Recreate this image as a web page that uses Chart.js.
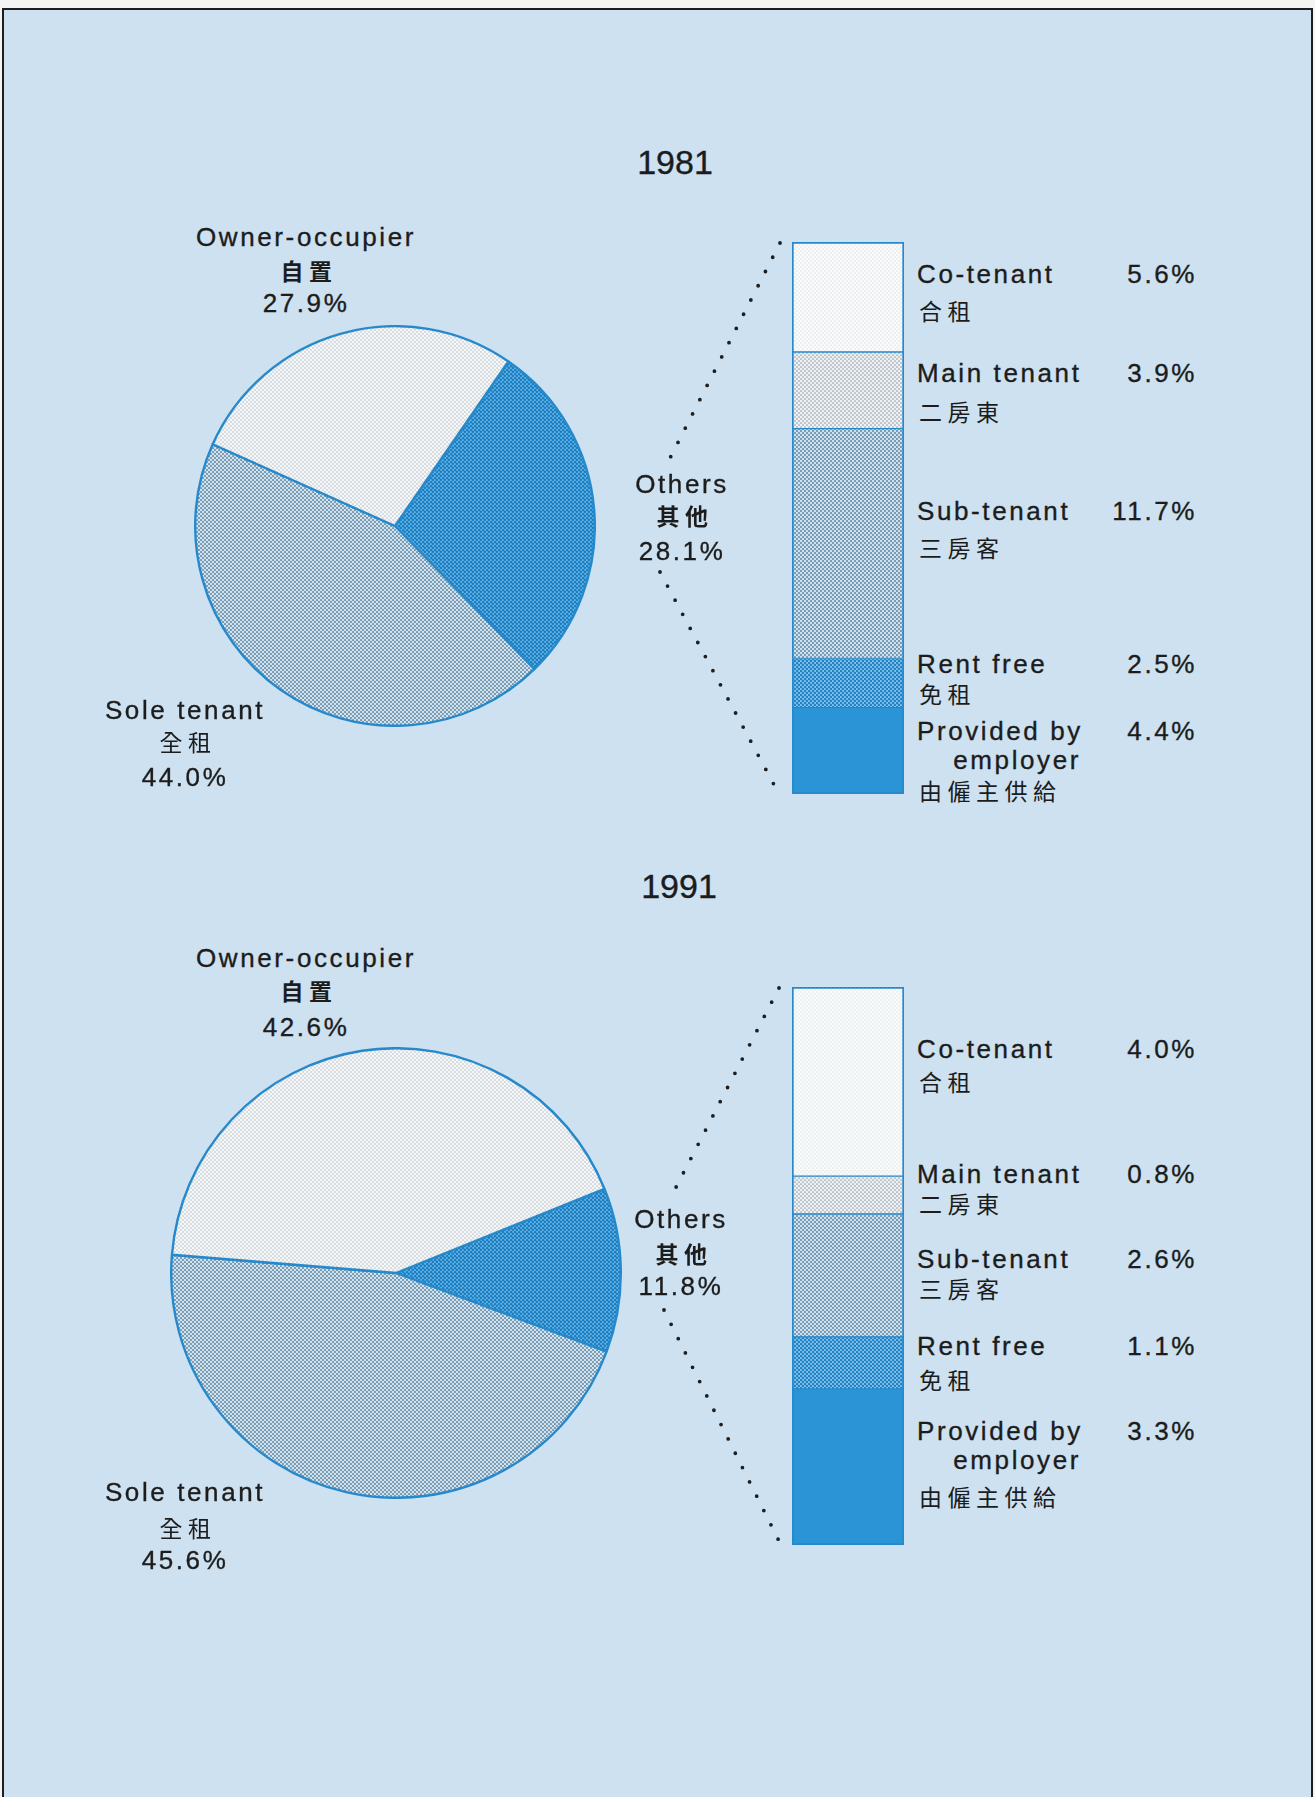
<!DOCTYPE html>
<html>
<head>
<meta charset="utf-8">
<script src="https://cdn.jsdelivr.net/npm/chart.js@4.4.1/dist/chart.umd.min.js"></script>
<style>
  html, body { margin: 0; padding: 0; background: #f4f4f2; }
  body { width: 1315px; height: 1797px; position: relative; overflow: hidden;
         font-family: "Liberation Sans", Arial, sans-serif; color: #1c1c1c; }
  #frame { position: absolute; left: 2px; top: 8px; width: 1307px; height: 1800px;
           border: 2px solid #1e1e1e; border-bottom: none; background: #cde1f0; }
  canvas { position: absolute; }
  .lbl { position: absolute; white-space: nowrap; line-height: 1; -webkit-text-stroke: 0.35px #1c1c1c; }
  .en { font-size: 26px; letter-spacing: 2.6px; }
  .zh { font-family: "Noto Sans CJK TC", sans-serif; font-size: 23px; letter-spacing: 5.5px; -webkit-text-stroke: 0; }
  .zhb { font-weight: 700; }
  .yr { font-size: 34px; }
</style>
</head>
<body>
<div id="frame"></div>
<canvas id="pie1981" width="402" height="402" style="left:194px;top:325px"></canvas>
<canvas id="bar1981" width="264" height="576" style="left:640px;top:230px"></canvas>
<canvas id="pie1991" width="452" height="452" style="left:170px;top:1047px"></canvas>
<canvas id="bar1991" width="264" height="582" style="left:640px;top:975px"></canvas>
<script>
// data
const years = ['1981', '1991'];
const pieLabels = ['Others', 'Sole tenant', 'Owner-occupier'];
const pieLabelsZh = ['其他', '全租', '自置'];
const pie1981 = [28.1, 44.0, 27.9];
const pie1991 = [11.8, 45.6, 42.6];
const otherLabels = ['Co-tenant', 'Main tenant', 'Sub-tenant', 'Rent free', 'Provided by employer'];
const otherLabelsZh = ['合租', '二房東', '三房客', '免租', '由僱主供給'];
const others1981 = [5.6, 3.9, 11.7, 2.5, 4.4];
const others1991 = [4.0, 0.8, 2.6, 1.1, 3.3];

const BLUE = '#2689cb';

// halftone-ish fills
function dots(bg, fg, r) {
  const c = document.createElement('canvas');
  c.width = 4; c.height = 4;
  const g = c.getContext('2d');
  g.fillStyle = bg;
  g.fillRect(0, 0, 4, 4);
  g.fillStyle = fg;
  g.beginPath(); g.arc(1, 1, r, 0, Math.PI * 2); g.fill();
  g.beginPath(); g.arc(3, 3, r, 0, Math.PI * 2); g.fill();
  return g.createPattern(c, 'repeat');
}

const pieFill = [
  dots('#6fb5e4', '#1a80c4', 1.4),
  dots('#d3e3ee', '#6f92ad', 1.05),
  dots('#f6f7f8', '#a9b3ba', 0.75)
];
const barFill = [
  dots('#fafbfb', '#bcc6cc', 0.55),
  dots('#eef1f3', '#949fa8', 0.85),
  dots('#d0e1ec', '#6b93b0', 1.05),
  dots('#8cc3e8', '#1f85c8', 1.35),
  '#2b94d6'
];

function makePie(id, values, rotation) {
  new Chart(document.getElementById(id), {
    type: 'pie',
    data: {
      labels: pieLabels,
      datasets: [{ data: values, backgroundColor: pieFill, borderColor: BLUE, borderWidth: 2.4 }]
    },
    options: {
      responsive: false,
      animation: false,
      rotation: rotation,
      layout: { padding: 0 },
      plugins: { legend: { display: false }, tooltip: { enabled: false } }
    }
  });
}

// dotted leader lines from the bar back towards the "Others" label
const leaderPlugin = {
  id: 'leader',
  afterDatasetsDraw(chart, args, opts) {
    const metas = chart.getSortedVisibleDatasetMetas();
    const bottomEl = metas[0].data[0];
    const topEl = metas[metas.length - 1].data[0];
    const left = topEl.x - topEl.width / 2;
    const top = topEl.y;
    const bottom = bottomEl.base;
    const ctx = chart.ctx;
    ctx.save();
    ctx.strokeStyle = '#1e1e1e';
    ctx.lineWidth = 3.8;
    ctx.lineCap = 'round';
    ctx.setLineDash([0, 16]);
    ctx.beginPath();
    ctx.moveTo(left + opts.top[0], top + opts.top[1]);
    ctx.lineTo(left + opts.top[2], top + opts.top[3]);
    ctx.stroke();
    ctx.beginPath();
    ctx.moveTo(left + opts.bottom[0], bottom + opts.bottom[1]);
    ctx.lineTo(left + opts.bottom[2], bottom + opts.bottom[3]);
    ctx.stroke();
    ctx.restore();
  }
};

function makeBar(id, values, total, leader) {
  const last = values.length - 1;
  const datasets = values.map(function (v, i) {
    return {
      label: otherLabels[i],
      data: [v],
      backgroundColor: barFill[i],
      borderColor: BLUE,
      borderWidth: { top: i === 0 ? 2 : 1, bottom: i === last ? 2 : 1, left: 2, right: 2 },
      borderSkipped: false,
      barPercentage: 1,
      categoryPercentage: 1
    };
  }).reverse();
  new Chart(document.getElementById(id), {
    type: 'bar',
    data: { labels: ['Others'], datasets: datasets },
    options: {
      responsive: false,
      animation: false,
      layout: { padding: { left: 152, right: 0, top: 12, bottom: 12 } },
      scales: {
        x: { display: false, stacked: true },
        y: { display: false, stacked: true, min: 0, max: total }
      },
      plugins: { legend: { display: false }, tooltip: { enabled: false }, leader: leader }
    },
    plugins: [leaderPlugin]
  });
}

makePie('pie1981', pie1981, 34.6);
makePie('pie1991', pie1991, 68);
makeBar('bar1981', others1981, pie1981[0], { top: [-12, 1, -124, 220], bottom: [-132, -222, -13, 0] });
makeBar('bar1991', others1991, pie1991[0], { top: [-13, 1, -120, 208], bottom: [-128, -235, -13, -4] });

// text
function addText(txt, x, y, cls, align) {
  const d = document.createElement('div');
  d.className = 'lbl ' + cls;
  d.textContent = txt;
  d.style.left = x + 'px';
  d.style.top = y + 'px';
  if (align === 'left') d.style.transform = 'translate(0,-50%)';
  else if (align === 'right') d.style.transform = 'translate(-100%,-50%)';
  else d.style.transform = 'translate(-50%,-50%)';
  document.body.appendChild(d);
}
const pct = function (v) { return v.toFixed(1) + '%'; };

const titlePos = [[675, 162], [679, 886]];
// [x, y of english line, y of chinese line, y of percent] per pie label
const piePos = [
  [[682, 484, 515, 551], [185, 710, 741, 777], [306, 237, 270, 303]],
  [[681, 1219, 1253, 1286], [185, 1492, 1527, 1560], [306, 958, 990, 1027]]
];
// y of english line and chinese line per bar segment
const barPos = [
  [[274, 310], [373, 411], [511, 547], [664, 693], [731, 790]],
  [[1049, 1081], [1174, 1203], [1259, 1288], [1346, 1379], [1431, 1496]]
];
const pieValues = [pie1981, pie1991];
const otherValues = [others1981, others1991];

years.forEach(function (yr, k) {
  addText(yr, titlePos[k][0], titlePos[k][1], 'yr', 'center');
  pieLabels.forEach(function (name, i) {
    const p = piePos[k][i];
    addText(name, p[0], p[1], 'en', 'center');
    addText(pieLabelsZh[i], p[0] + 3, p[2], i === 1 ? 'zh' : 'zh zhb', 'center');
    addText(pct(pieValues[k][i]), p[0], p[3], 'en', 'center');
  });
  otherLabels.forEach(function (name, i) {
    const p = barPos[k][i];
    const parts = name.split(/(?<=by) /);
    addText(parts[0], 917, p[0], 'en', 'left');
    if (parts[1]) addText(parts[1], 1081, p[0] + 29, 'en', 'right');
    addText(otherLabelsZh[i], 919, p[1], 'zh', 'left');
    addText(pct(otherValues[k][i]), 1197, p[0], 'en', 'right');
  });
});
</script>
</body>
</html>
